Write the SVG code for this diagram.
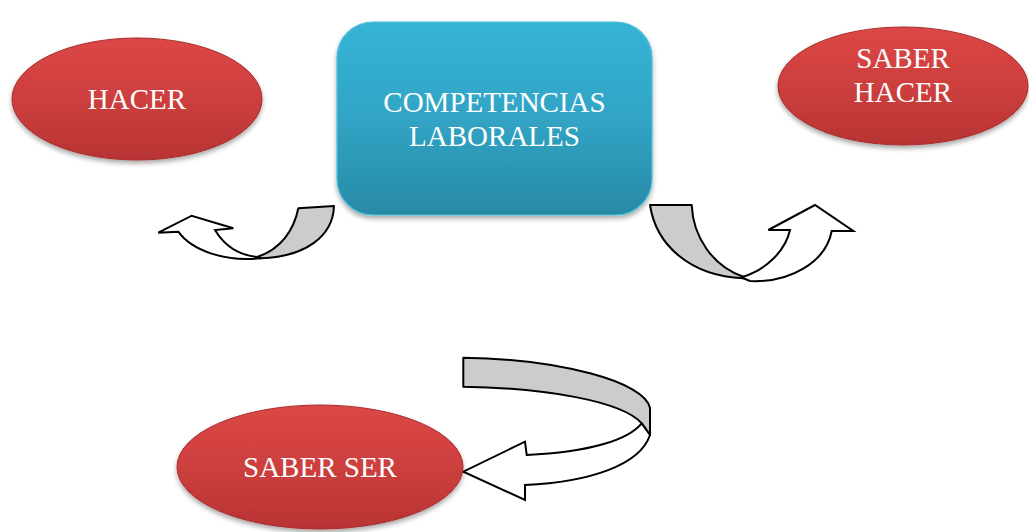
<svg xmlns="http://www.w3.org/2000/svg" width="1029" height="532" viewBox="0 0 1029 532">
<defs>
<linearGradient id="gBlue" x1="0" y1="0" x2="0" y2="1">
<stop offset="0" stop-color="#36b4d7"/>
<stop offset="0.5" stop-color="#31a4c5"/>
<stop offset="1" stop-color="#288aa6"/>
</linearGradient>
<linearGradient id="gRed" x1="0" y1="0" x2="0" y2="1">
<stop offset="0" stop-color="#dc4746"/>
<stop offset="0.5" stop-color="#cd3f3e"/>
<stop offset="1" stop-color="#b83333"/>
</linearGradient>
<filter id="sh" x="-10%" y="-10%" width="120%" height="130%">
<feGaussianBlur in="SourceAlpha" stdDeviation="2.5"/>
<feOffset dx="0" dy="3" result="b"/>
<feComponentTransfer><feFuncA type="linear" slope="0.35"/></feComponentTransfer>
<feMerge><feMergeNode/><feMergeNode in="SourceGraphic"/></feMerge>
</filter>
<style>
.ell{fill:url(#gRed);stroke:#a82c2c;stroke-width:1;filter:url(#sh)}
.box{fill:url(#gBlue);stroke:#4cbfdc;stroke-width:1.2;filter:url(#sh)}
.lbl{font-family:"Liberation Serif","Times New Roman",serif;font-size:29px;fill:#ffffff;text-anchor:middle}
.back{fill:#cccccc;stroke:#000;stroke-width:2;stroke-linejoin:round}
.front{fill:#ffffff;stroke:#000;stroke-width:2;stroke-linejoin:miter}
</style>
</defs>
<rect width="1029" height="532" fill="#ffffff"/>
<g id="connectors">
<g id="arrow-left">
<path class="back" d="M298.3,208.3 L334,206 C333,236 306,257 260,258.3 L257,257 C281,249 294,230 298.3,208.3 Z"/>
<path class="front" d="M178.3,231.7 L158.3,232.7 L191.7,215.7 L233.3,228.3 L215,230 C224,245 238,255 257,257 L260,258.3 C226,262 192,251 178.3,231.7 Z"/>
</g>
<g id="arrow-right">
<path class="back" d="M650,205 L691.7,205 C693,236 712,266 743.3,276.7 L743.3,278.3 C690,276 656,245 650,205 Z"/>
<path class="front" d="M743.3,276.7 C765,270 785,252 790,230 L768.3,230 L815,205 L853.3,231 L831.7,231 C826,262 790,283 750,281 L743.3,278.3 Z"/>
</g>
<g id="arrow-bottom">
<path class="back" d="M463.3,357.7 C560,359 645,382 650,408 L650,435 L641.7,423.3 C622,401 545,388 463.3,386.7 Z"/>
<path class="front" d="M641.7,423.3 C628,440 590,452 526.7,455 L525,441.7 L463.3,471.7 L525,500 L525,485 C590,482 640,465 650,435 Z"/>
</g>
</g>
<g id="node-competencias">
<rect class="box" x="337" y="22" width="315" height="193" rx="36" ry="36"/>
<text class="lbl" x="494.5" y="112">COMPETENCIAS</text>
<text class="lbl" x="494.5" y="146">LABORALES</text>
</g>
<g id="node-hacer">
<ellipse class="ell" cx="137" cy="99" rx="125" ry="61"/>
<text class="lbl" x="137" y="109">HACER</text>
</g>
<g id="node-saber-hacer">
<ellipse class="ell" cx="903" cy="86" rx="125" ry="59"/>
<text class="lbl" x="903" y="68">SABER</text>
<text class="lbl" x="903" y="102">HACER</text>
</g>
<g id="node-saber-ser">
<ellipse class="ell" cx="320" cy="467" rx="143" ry="62"/>
<text class="lbl" x="320" y="477">SABER SER</text>
</g>
</svg>
